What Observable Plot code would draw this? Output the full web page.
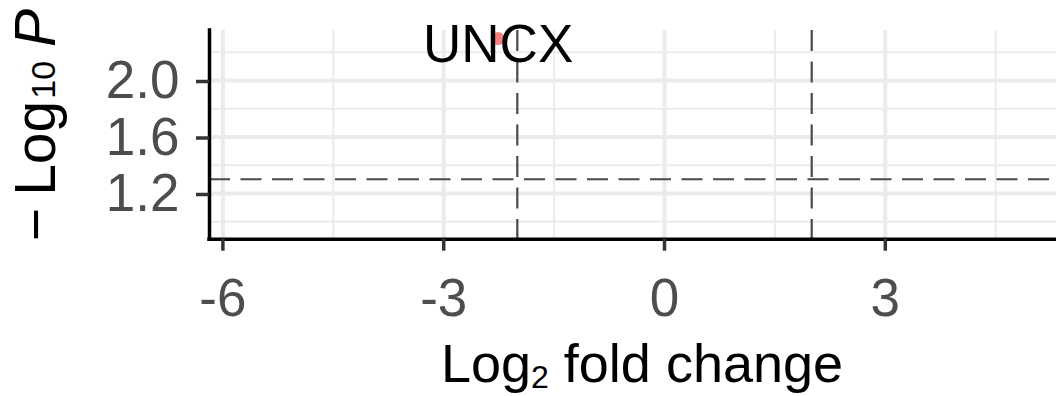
<!DOCTYPE html>
<html>
<head>
<meta charset="utf-8">
<script src="https://cdn.jsdelivr.net/npm/d3@7"></script>
<script src="https://cdn.jsdelivr.net/npm/@observablehq/plot@0.6"></script>
<style>
  html, body { margin: 0; padding: 0; background: #fff; overflow: hidden; }
  #chart svg { display: block; }
</style>
</head>
<body>
<div id="chart"></div>
<script>
// ---- data ----
const genes = ["UNCX"];
const log2FC = [-2.26];
const negLog10P = [2.297];

const fcCutoffs = [-2, 2];
const pCutoff = [1.301];

const xTicks = [-6, -3, 0, 3, 6];
const xMinorTicks = [-4.5, -1.5, 1.5, 4.5];
const yTicks = [1.2, 1.6, 2.0];
const yMinorTicks = [1.0, 1.4, 1.8, 2.2];

const xDomain = [-6.182, 5.326];
const yDomain = [0.8765, 2.354];

const xTitle = ["Log", "2", " fold change"];
const yTitle = ["\u2212", "Log", "10", "P"];

// ---- table ----
const points = genes.map((g, i) => ({gene: g, x: log2FC[i], y: negLog10P[i]}));

const W = 1056, H = 396;
const font = "'Liberation Sans', Arial, Helvetica, sans-serif";
const xVisible = xTicks.filter(d => d >= xDomain[0] && d <= xDomain[1]);

const plot = Plot.plot({
  width: W,
  height: H,
  marginLeft: 209,
  marginRight: 0,
  marginTop: 30,
  marginBottom: 157.3,
  style: {fontFamily: font, background: "#fff", overflow: "visible"},
  x: {domain: xDomain, axis: null},
  y: {domain: yDomain, axis: null},
  marks: [
    // minor grid
    Plot.ruleX(xMinorTicks, {stroke: "#ebebeb", strokeWidth: 2}),
    Plot.ruleY(yMinorTicks, {stroke: "#ebebeb", strokeWidth: 2}),
    // major grid
    Plot.ruleX(xVisible, {stroke: "#ebebeb", strokeWidth: 4}),
    Plot.ruleY(yTicks, {stroke: "#ebebeb", strokeWidth: 4}),
    // points
    Plot.dot(points, {x: "x", y: "y", r: 6.5, fill: "#f88080", stroke: null}),
    // cutoff lines
    Plot.ruleX(fcCutoffs, {stroke: "#4a4a4a", strokeWidth: 2.2, strokeDasharray: "21,10.5"}),
    Plot.ruleY(pCutoff, {stroke: "#4a4a4a", strokeWidth: 2.2, strokeDasharray: "21,10.5"}),
    // labels
    Plot.text(points, {x: "x", y: "y", text: "gene", fontSize: 53, fill: "#000", dy: 6}),
    // axes lines
    Plot.ruleY([yDomain[0]], {stroke: "#000", strokeWidth: 3.5, strokeLinecap: "square"}),
    Plot.ruleX([xDomain[0]], {stroke: "#000", strokeWidth: 3.5, strokeLinecap: "square"}),
    // axes ticks & labels
    Plot.axisX(xVisible, {
      anchor: "bottom", tickSize: 12, tickPadding: 27, strokeWidth: 3.5,
      stroke: "#333", fill: "#4d4d4d", fontSize: 53,
      tickFormat: d => String(d), label: null
    }),
    Plot.axisY(yTicks, {
      anchor: "left", tickSize: 13, tickPadding: 17, strokeWidth: 3.5,
      stroke: "#333", fill: "#4d4d4d", fontSize: 53, dy: 1,
      tickFormat: d3.format(".1f"), label: null
    })
  ]
});

document.getElementById("chart").appendChild(plot);

// ---- axis titles with subscripts ----
const svg = d3.select(plot);

const xt = svg.append("text")
  .attr("x", 642).attr("y", 382)
  .attr("text-anchor", "middle")
  .attr("font-family", font)
  .attr("font-size", 54)
  .attr("fill", "#000");
xt.append("tspan").text(xTitle[0]);
xt.append("tspan").attr("font-size", 32).attr("dy", 6).text(xTitle[1]);
xt.append("tspan").attr("dy", -6).text(xTitle[2]);

const yt = svg.append("text")
  .attr("transform", "translate(55,125) rotate(-90)")
  .attr("text-anchor", "middle")
  .attr("font-family", font)
  .attr("font-size", 57)
  .attr("fill", "#000");
yt.append("tspan").text(yTitle[0]);
yt.append("tspan").attr("dx", 12).text(yTitle[1]);
yt.append("tspan").attr("font-size", 34).attr("dx", 2).text(yTitle[2]);
yt.append("tspan").attr("dx", 14).attr("font-style", "italic").text(yTitle[3]);
</script>
</body>
</html>
